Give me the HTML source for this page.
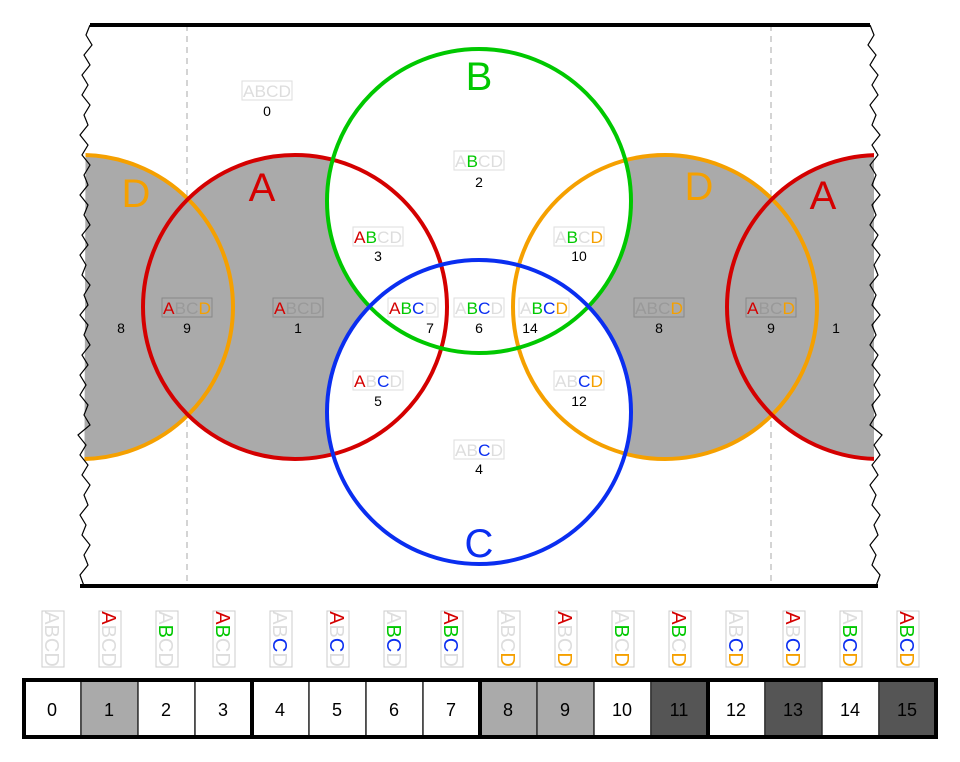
<!DOCTYPE html>
<html><head><meta charset="utf-8"><style>
html,body{margin:0;padding:0;background:#fff;}
svg{display:block;}
text{font-family:"Liberation Sans Narrow","Liberation Sans",sans-serif;}
.n{font-size:14px;fill:#000;text-anchor:middle;}
.lb{font-size:17px;text-anchor:middle;}
.big{font-family:"Liberation Sans",sans-serif;font-size:40px;text-anchor:middle;}
</style></head><body>
<svg width="960" height="762" viewBox="0 0 960 762" xmlns="http://www.w3.org/2000/svg">
<defs>
<clipPath id="frame"><polygon points="86,25 874,25 874,586 84,586"/></clipPath>
<clipPath id="ad"><circle cx="295" cy="307" r="152"/><circle cx="879" cy="307" r="152"/><circle cx="81" cy="307" r="152"/><circle cx="665" cy="307" r="152"/></clipPath>
</defs>
<g clip-path="url(#frame)">
<rect x="0" y="0" width="960" height="600" fill="#fff"/>
<rect x="0" y="0" width="960" height="600" fill="#aaa" clip-path="url(#ad)"/>
<circle cx="479" cy="201" r="152" fill="#fff"/>
<circle cx="479" cy="412" r="152" fill="#fff"/>
<line x1="187" y1="25" x2="187" y2="586" stroke="#aaa" stroke-dasharray="6,5"/>
<line x1="771" y1="25" x2="771" y2="586" stroke="#aaa" stroke-dasharray="6,5"/>
<g fill="none" stroke-width="4">
<circle cx="81" cy="307" r="152" stroke="#f5a000"/>
<circle cx="665" cy="307" r="152" stroke="#f5a000"/>
<circle cx="295" cy="307" r="152" stroke="#d40000"/>
<circle cx="879" cy="307" r="152" stroke="#d40000"/>
<circle cx="479" cy="201" r="152" stroke="#00c800"/>
<circle cx="479" cy="412" r="152" stroke="#0a2ef0"/>
</g>
</g>
<polyline fill="none" stroke="#000" stroke-width="1.2" points="90,25 86,35 92,45 84,55 90,65 82,75 88,85 82,95 90,105 84,115 88,125 80,135 88,145 82,155 90,165 84,175 88,185 80,195 88,205 84,215 90,225 82,235 88,245 80,255 86,265 82,275 90,285 84,295 88,305 80,315 88,325 84,335 90,345 82,355 88,365 80,375 86,385 80,395 88,405 84,415 90,425 78,435 86,445 80,455 88,465 82,475 90,485 84,495 88,505 80,515 86,525 82,535 90,545 84,555 88,565 80,575 84,586"/>
<polyline fill="none" stroke="#000" stroke-width="1.2" points="870,25 874,35 868,45 876,55 870,65 878,75 872,85 878,95 870,105 876,115 872,125 880,135 872,145 878,155 870,165 876,175 872,185 880,195 872,205 876,215 870,225 878,235 872,245 880,255 874,265 878,275 870,285 876,295 872,305 880,315 872,325 876,335 870,345 878,355 872,365 880,375 874,385 880,395 872,405 876,415 870,425 882,435 874,445 880,455 872,465 878,475 870,485 876,495 872,505 880,515 874,525 878,535 870,545 876,555 872,565 880,575 876,586"/>
<line x1="90" y1="25" x2="870" y2="25" stroke="#000" stroke-width="4"/>
<line x1="80" y1="586" x2="878" y2="586" stroke="#000" stroke-width="4"/>

<text class="big" x="479" y="90" fill="#00c800">B</text>
<text class="big" x="479" y="557" fill="#0a2ef0">C</text>
<text class="big" x="262" y="201" fill="#d40000">A</text>
<text class="big" x="136" y="207" fill="#f5a000">D</text>
<text class="big" x="699" y="200" fill="#f5a000">D</text>
<text class="big" x="823" y="209" fill="#d40000">A</text>

<g>
<rect x="242" y="81" width="50" height="19" fill="none" stroke="#ddd"/><text class="lb" x="267" y="97" fill="#ddd" textLength="48" lengthAdjust="spacingAndGlyphs">ABCD</text><text class="n" x="267" y="116">0</text>
<rect x="454" y="151" width="50" height="19" fill="none" stroke="#ddd"/><text class="lb" x="479" y="167" textLength="48" lengthAdjust="spacingAndGlyphs"><tspan fill="#ddd">A</tspan><tspan fill="#00c800">B</tspan><tspan fill="#ddd">CD</tspan></text><text class="n" x="479" y="187">2</text>
<rect x="353" y="227" width="50" height="19" fill="none" stroke="#ddd"/><text class="lb" x="378" y="243" textLength="48" lengthAdjust="spacingAndGlyphs"><tspan fill="#d40000">A</tspan><tspan fill="#00c800">B</tspan><tspan fill="#ddd">CD</tspan></text><text class="n" x="378" y="261">3</text>
<rect x="554" y="227" width="50" height="19" fill="none" stroke="#ddd"/><text class="lb" x="579" y="243" textLength="48" lengthAdjust="spacingAndGlyphs"><tspan fill="#ddd">A</tspan><tspan fill="#00c800">B</tspan><tspan fill="#ddd">C</tspan><tspan fill="#f5a000">D</tspan></text><text class="n" x="579" y="261">10</text>
<rect x="162" y="298" width="50" height="19" fill="none" stroke="#888"/><text class="lb" x="187" y="314" textLength="48" lengthAdjust="spacingAndGlyphs"><tspan fill="#d40000">A</tspan><tspan fill="#999">BC</tspan><tspan fill="#f5a000">D</tspan></text><text class="n" x="187" y="333">9</text>
<text class="n" x="121" y="333">8</text>
<rect x="273" y="298" width="50" height="19" fill="none" stroke="#888"/><text class="lb" x="298" y="314" textLength="48" lengthAdjust="spacingAndGlyphs"><tspan fill="#d40000">A</tspan><tspan fill="#999">BCD</tspan></text><text class="n" x="298" y="333">1</text>
<rect x="388" y="298" width="50" height="19" fill="none" stroke="#ddd"/><text class="lb" x="413" y="314" textLength="48" lengthAdjust="spacingAndGlyphs"><tspan fill="#d40000">A</tspan><tspan fill="#00c800">B</tspan><tspan fill="#0a2ef0">C</tspan><tspan fill="#ddd">D</tspan></text><text class="n" x="430" y="333">7</text>
<rect x="454" y="298" width="50" height="19" fill="none" stroke="#ddd"/><text class="lb" x="479" y="314" textLength="48" lengthAdjust="spacingAndGlyphs"><tspan fill="#ddd">A</tspan><tspan fill="#00c800">B</tspan><tspan fill="#0a2ef0">C</tspan><tspan fill="#ddd">D</tspan></text><text class="n" x="479" y="333">6</text>
<rect x="519" y="298" width="50" height="19" fill="none" stroke="#ddd"/><text class="lb" x="544" y="314" textLength="48" lengthAdjust="spacingAndGlyphs"><tspan fill="#ddd">A</tspan><tspan fill="#00c800">B</tspan><tspan fill="#0a2ef0">C</tspan><tspan fill="#f5a000">D</tspan></text><text class="n" x="530" y="333">14</text>
<rect x="634" y="298" width="50" height="19" fill="none" stroke="#888"/><text class="lb" x="659" y="314" textLength="48" lengthAdjust="spacingAndGlyphs"><tspan fill="#999">ABC</tspan><tspan fill="#f5a000">D</tspan></text><text class="n" x="659" y="333">8</text>
<rect x="746" y="298" width="50" height="19" fill="none" stroke="#888"/><text class="lb" x="771" y="314" textLength="48" lengthAdjust="spacingAndGlyphs"><tspan fill="#d40000">A</tspan><tspan fill="#999">BC</tspan><tspan fill="#f5a000">D</tspan></text><text class="n" x="771" y="333">9</text>
<text class="n" x="836" y="333">1</text>
<rect x="353" y="371" width="50" height="19" fill="none" stroke="#ddd"/><text class="lb" x="378" y="387" textLength="48" lengthAdjust="spacingAndGlyphs"><tspan fill="#d40000">A</tspan><tspan fill="#ddd">B</tspan><tspan fill="#0a2ef0">C</tspan><tspan fill="#ddd">D</tspan></text><text class="n" x="378" y="406">5</text>
<rect x="554" y="371" width="50" height="19" fill="none" stroke="#ddd"/><text class="lb" x="579" y="387" textLength="48" lengthAdjust="spacingAndGlyphs"><tspan fill="#ddd">AB</tspan><tspan fill="#0a2ef0">C</tspan><tspan fill="#f5a000">D</tspan></text><text class="n" x="579" y="406">12</text>
<rect x="454" y="440" width="50" height="19" fill="none" stroke="#ddd"/><text class="lb" x="479" y="456" textLength="48" lengthAdjust="spacingAndGlyphs"><tspan fill="#ddd">AB</tspan><tspan fill="#0a2ef0">C</tspan><tspan fill="#ddd">D</tspan></text><text class="n" x="479" y="474">4</text>
</g>

<g font-size="20" text-anchor="middle">
<g transform="translate(53,639) rotate(90)"><rect x="-28" y="-11" width="56" height="22" fill="#fff" stroke="#ccc"/><text x="0" y="8" fill="#ddd" style="font-size:20px">ABCD</text></g>
<g transform="translate(110,639) rotate(90)"><rect x="-28" y="-11" width="56" height="22" fill="#fff" stroke="#ccc"/><text x="0" y="8" style="font-size:20px"><tspan fill="#d40000">A</tspan><tspan fill="#ddd">BCD</tspan></text></g>
<g transform="translate(167,639) rotate(90)"><rect x="-28" y="-11" width="56" height="22" fill="#fff" stroke="#ccc"/><text x="0" y="8" style="font-size:20px"><tspan fill="#ddd">A</tspan><tspan fill="#00c800">B</tspan><tspan fill="#ddd">CD</tspan></text></g>
<g transform="translate(224,639) rotate(90)"><rect x="-28" y="-11" width="56" height="22" fill="#fff" stroke="#ccc"/><text x="0" y="8" style="font-size:20px"><tspan fill="#d40000">A</tspan><tspan fill="#00c800">B</tspan><tspan fill="#ddd">CD</tspan></text></g>
<g transform="translate(281,639) rotate(90)"><rect x="-28" y="-11" width="56" height="22" fill="#fff" stroke="#ccc"/><text x="0" y="8" style="font-size:20px"><tspan fill="#ddd">AB</tspan><tspan fill="#0a2ef0">C</tspan><tspan fill="#ddd">D</tspan></text></g>
<g transform="translate(338,639) rotate(90)"><rect x="-28" y="-11" width="56" height="22" fill="#fff" stroke="#ccc"/><text x="0" y="8" style="font-size:20px"><tspan fill="#d40000">A</tspan><tspan fill="#ddd">B</tspan><tspan fill="#0a2ef0">C</tspan><tspan fill="#ddd">D</tspan></text></g>
<g transform="translate(395,639) rotate(90)"><rect x="-28" y="-11" width="56" height="22" fill="#fff" stroke="#ccc"/><text x="0" y="8" style="font-size:20px"><tspan fill="#ddd">A</tspan><tspan fill="#00c800">B</tspan><tspan fill="#0a2ef0">C</tspan><tspan fill="#ddd">D</tspan></text></g>
<g transform="translate(452,639) rotate(90)"><rect x="-28" y="-11" width="56" height="22" fill="#fff" stroke="#ccc"/><text x="0" y="8" style="font-size:20px"><tspan fill="#d40000">A</tspan><tspan fill="#00c800">B</tspan><tspan fill="#0a2ef0">C</tspan><tspan fill="#ddd">D</tspan></text></g>
<g transform="translate(509,639) rotate(90)"><rect x="-28" y="-11" width="56" height="22" fill="#fff" stroke="#ccc"/><text x="0" y="8" style="font-size:20px"><tspan fill="#ddd">ABC</tspan><tspan fill="#f5a000">D</tspan></text></g>
<g transform="translate(566,639) rotate(90)"><rect x="-28" y="-11" width="56" height="22" fill="#fff" stroke="#ccc"/><text x="0" y="8" style="font-size:20px"><tspan fill="#d40000">A</tspan><tspan fill="#ddd">BC</tspan><tspan fill="#f5a000">D</tspan></text></g>
<g transform="translate(623,639) rotate(90)"><rect x="-28" y="-11" width="56" height="22" fill="#fff" stroke="#ccc"/><text x="0" y="8" style="font-size:20px"><tspan fill="#ddd">A</tspan><tspan fill="#00c800">B</tspan><tspan fill="#ddd">C</tspan><tspan fill="#f5a000">D</tspan></text></g>
<g transform="translate(680,639) rotate(90)"><rect x="-28" y="-11" width="56" height="22" fill="#fff" stroke="#ccc"/><text x="0" y="8" style="font-size:20px"><tspan fill="#d40000">A</tspan><tspan fill="#00c800">B</tspan><tspan fill="#ddd">C</tspan><tspan fill="#f5a000">D</tspan></text></g>
<g transform="translate(737,639) rotate(90)"><rect x="-28" y="-11" width="56" height="22" fill="#fff" stroke="#ccc"/><text x="0" y="8" style="font-size:20px"><tspan fill="#ddd">AB</tspan><tspan fill="#0a2ef0">C</tspan><tspan fill="#f5a000">D</tspan></text></g>
<g transform="translate(794,639) rotate(90)"><rect x="-28" y="-11" width="56" height="22" fill="#fff" stroke="#ccc"/><text x="0" y="8" style="font-size:20px"><tspan fill="#d40000">A</tspan><tspan fill="#ddd">B</tspan><tspan fill="#0a2ef0">C</tspan><tspan fill="#f5a000">D</tspan></text></g>
<g transform="translate(851,639) rotate(90)"><rect x="-28" y="-11" width="56" height="22" fill="#fff" stroke="#ccc"/><text x="0" y="8" style="font-size:20px"><tspan fill="#ddd">A</tspan><tspan fill="#00c800">B</tspan><tspan fill="#0a2ef0">C</tspan><tspan fill="#f5a000">D</tspan></text></g>
<g transform="translate(908,639) rotate(90)"><rect x="-28" y="-11" width="56" height="22" fill="#fff" stroke="#ccc"/><text x="0" y="8" style="font-size:20px"><tspan fill="#d40000">A</tspan><tspan fill="#00c800">B</tspan><tspan fill="#0a2ef0">C</tspan><tspan fill="#f5a000">D</tspan></text></g>
</g>

<g stroke="#333" stroke-width="1.5">
<rect x="24" y="680" width="57" height="57" fill="#fff"/>
<rect x="81" y="680" width="57" height="57" fill="#aaa"/>
<rect x="138" y="680" width="57" height="57" fill="#fff"/>
<rect x="195" y="680" width="57" height="57" fill="#fff"/>
<rect x="252" y="680" width="57" height="57" fill="#fff"/>
<rect x="309" y="680" width="57" height="57" fill="#fff"/>
<rect x="366" y="680" width="57" height="57" fill="#fff"/>
<rect x="423" y="680" width="57" height="57" fill="#fff"/>
<rect x="480" y="680" width="57" height="57" fill="#aaa"/>
<rect x="537" y="680" width="57" height="57" fill="#aaa"/>
<rect x="594" y="680" width="57" height="57" fill="#fff"/>
<rect x="651" y="680" width="57" height="57" fill="#555"/>
<rect x="708" y="680" width="57" height="57" fill="#fff"/>
<rect x="765" y="680" width="57" height="57" fill="#555"/>
<rect x="822" y="680" width="57" height="57" fill="#fff"/>
<rect x="879" y="680" width="57" height="57" fill="#555"/>
</g>
<g stroke="#000" stroke-width="4" fill="none">
<rect x="24" y="680" width="912" height="57"/>
<line x1="252" y1="680" x2="252" y2="737"/>
<line x1="480" y1="680" x2="480" y2="737"/>
<line x1="708" y1="680" x2="708" y2="737"/>
</g>
<g font-size="18" text-anchor="middle" fill="#000">
<text x="52" y="716">0</text><text x="109" y="716">1</text><text x="166" y="716">2</text><text x="223" y="716">3</text>
<text x="280" y="716">4</text><text x="337" y="716">5</text><text x="394" y="716">6</text><text x="451" y="716">7</text>
<text x="508" y="716">8</text><text x="565" y="716">9</text><text x="622" y="716">10</text><text x="679" y="716">11</text>
<text x="736" y="716">12</text><text x="793" y="716">13</text><text x="850" y="716">14</text><text x="907" y="716">15</text>
</g>
</svg>
</body></html>
